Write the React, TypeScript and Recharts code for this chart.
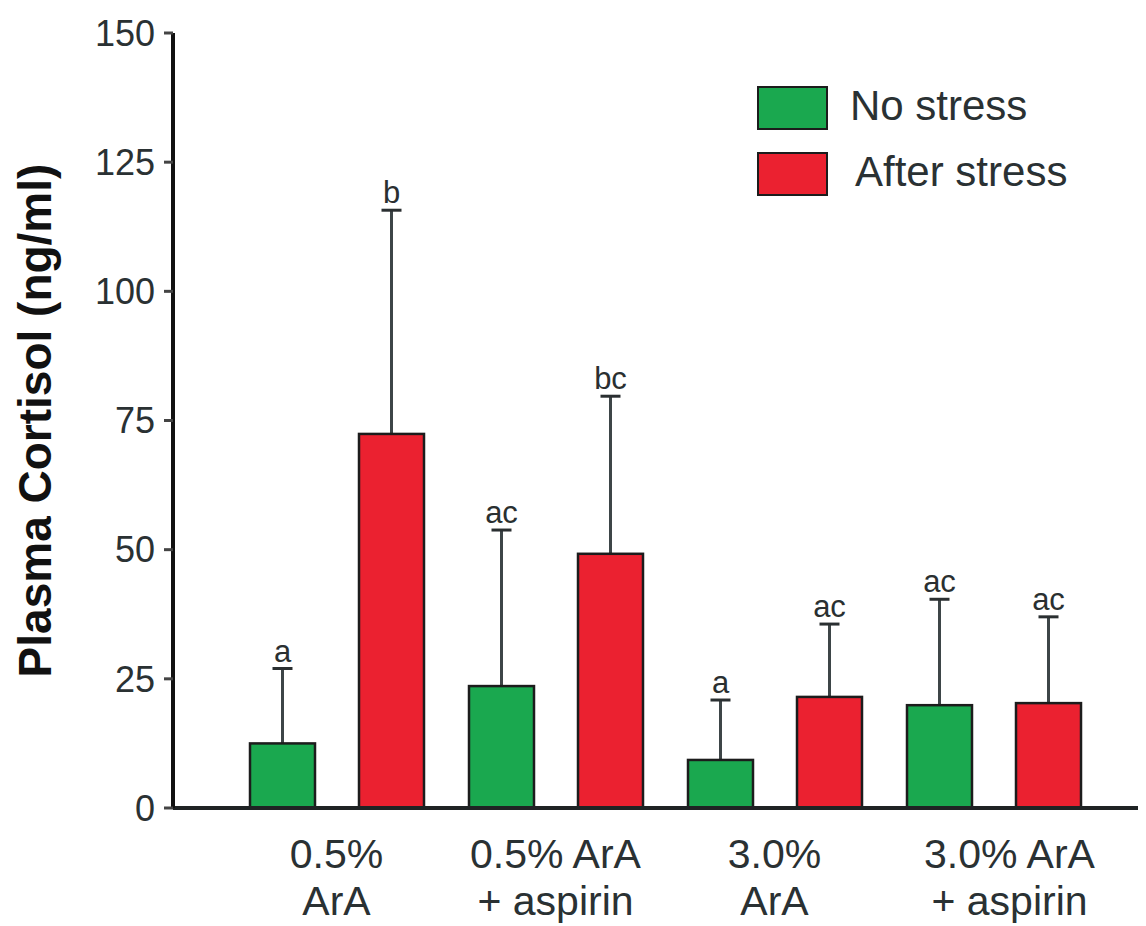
import React from 'react';
import { BarChart, Bar, XAxis, YAxis, Legend } from 'recharts';

const categories = ['0.5%|ArA', '0.5% ArA|+ aspirin', '3.0%|ArA', '3.0% ArA|+ aspirin'];
const noStress = [12.5, 23.6, 9.3, 19.9];
const noStressErr = [14.5, 30.2, 11.6, 20.5];
const noStressLetters = ['a', 'ac', 'a', 'ac'];
const afterStress = [72.4, 49.2, 21.5, 20.3];
const afterStressErr = [43.3, 30.5, 14.1, 16.7];
const afterStressLetters = ['b', 'bc', 'ac', 'ac'];
const yTicks = [0, 25, 50, 75, 100, 125, 150];

const data = categories.map((c, i) => ({
  cat: c,
  noStress: noStress[i],
  noStressErr: noStressErr[i],
  noStressLetter: noStressLetters[i],
  afterStress: afterStress[i],
  afterStressErr: afterStressErr[i],
  afterStressLetter: afterStressLetters[i],
}));

const FONT = '"Liberation Sans", Arial, Helvetica, sans-serif';
const GREEN = '#1aa84f';
const RED = '#eb2130';

const makeShape = (valKey: string, errKey: string, letterKey: string) => (props: any) => {
  const { x, y, width, height, fill, payload } = props;
  const value = payload[valKey];
  const err = payload[errKey];
  const pxPerUnit = value ? height / value : 0;
  const topY = y - err * pxPerUnit;
  const cx = x + width / 2;
  return (
    <g>
      <line x1={cx} x2={cx} y1={y} y2={topY} stroke="#3d4547" strokeWidth={3} />
      <line x1={cx - 10} x2={cx + 10} y1={topY} y2={topY} stroke="#2a2f31" strokeWidth={3} />
      <text x={cx} y={topY - 7} textAnchor="middle" fontFamily={FONT} fontSize={31} fill="#2a2f31">
        {payload[letterKey]}
      </text>
      <rect x={x} y={y} width={width} height={height} fill={fill} stroke="#1c1c1c" strokeWidth={2.5} />
    </g>
  );
};

const XTick = (props: any) => {
  const { x, y, payload, index } = props;
  const lines = String(payload.value).split('|');
  const nudge = index === 3 ? 16 : 0;
  return (
    <g>
      {lines.map((l, i) => (
        <text key={i} x={x + nudge} y={y + 52 + i * 47} textAnchor="middle" fontFamily={FONT} fontSize={41} fill="#2a3133">
          {l}
        </text>
      ))}
    </g>
  );
};

const YLabel = (props: any) => {
  const vb = props.viewBox || {};
  const cy = vb.y + vb.height / 2;
  const cx = 27;
  return (
    <text x={cx} y={cy} transform={`rotate(-90, ${cx}, ${cy})`} textAnchor="middle" dominantBaseline="central"
      fontFamily={FONT} fontWeight="bold" fontSize={46} fill="#111">
      Plasma Cortisol (ng/ml)
    </text>
  );
};

const LegendContent = (props: any) => {
  const items = [
    { label: 'No stress', color: GREEN, textX: 93 },
    { label: 'After stress', color: RED, textX: 98 },
  ];
  return (
    <div style={{ position: 'relative', width: 340, height: 120, fontFamily: FONT }}>
      {items.map((it, i) => (
        <React.Fragment key={i}>
          <div style={{ position: 'absolute', left: 0, top: i * 66, width: 67, height: 40, background: it.color, border: '2px solid #1c1c1c' }} />
          <div style={{ position: 'absolute', left: it.textX, top: i * 66 - 6, fontSize: 42, lineHeight: '52px', color: '#2a3133', whiteSpace: 'nowrap' }}>
            {it.label}
          </div>
        </React.Fragment>
      ))}
    </div>
  );
};

export default function App() {
  return (
    <div style={{ width: 1138, height: 918, background: '#fff' }}>
      <BarChart
        width={1138}
        height={918}
        data={data}
        margin={{ top: 25, right: 0, left: 0, bottom: 0 }}
        barSize={65}
        barGap={44}
      >
        <XAxis
          dataKey="cat"
          height={118}
          tickLine={false}
          axisLine={{ stroke: '#1f2324', strokeWidth: 4 }}
          tick={<XTick />}
          padding={{ left: 54, right: 43 }}
          interval={0}
        />
        <YAxis
          width={165}
          domain={[0, 150]}
          ticks={yTicks}
          interval={0}
          tickSize={9}
          tickMargin={9}
          tickLine={{ stroke: '#444', strokeWidth: 3 }}
          axisLine={{ stroke: '#111', strokeWidth: 4 }}
          tick={{ fontSize: 36, fill: '#2a3133', fontFamily: FONT }}
          label={<YLabel />}
        />
        <Legend
          layout="horizontal"
          verticalAlign="middle"
          align="center"
          wrapperStyle={{ position: 'absolute', left: 749, top: 78, width: 360 }}
          content={<LegendContent />}
        />
        <Bar dataKey="noStress" name="No stress" fill={GREEN} isAnimationActive={false}
          shape={makeShape('noStress', 'noStressErr', 'noStressLetter')} />
        <Bar dataKey="afterStress" name="After stress" fill={RED} isAnimationActive={false}
          shape={makeShape('afterStress', 'afterStressErr', 'afterStressLetter')} />
      </BarChart>
    </div>
  );
}
